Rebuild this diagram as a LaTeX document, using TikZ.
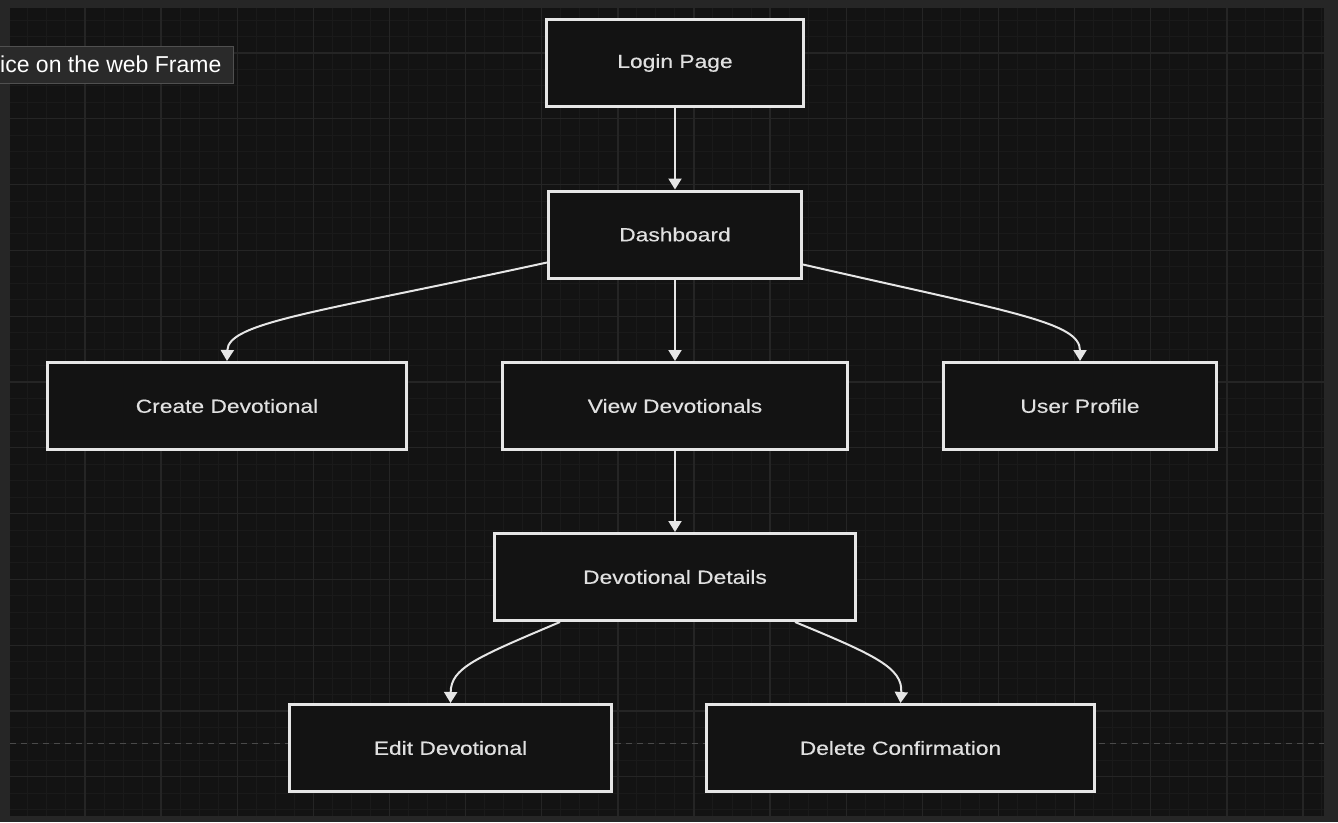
\documentclass[tikz,border=0pt]{standalone}
\usepackage{fontspec}
\usetikzlibrary{arrows.meta,calc}
\newfontfamily\lblfont[FakeStretch=1.2,FakeBold=0.4]{Liberation Sans}
\newfontfamily\tipfont{Liberation Sans}
\definecolor{frame}{HTML}{262626}
\definecolor{canvas}{HTML}{131313}
\definecolor{gridminor}{HTML}{1A1A1A}
\definecolor{gridmajor}{HTML}{252525}
\definecolor{edge}{HTML}{E6E6E6}
\definecolor{lbl}{HTML}{E0E0E0}
\definecolor{dashcol}{HTML}{4A4A4A}
\definecolor{tipfill}{HTML}{2A2A2A}
\definecolor{tipedge}{HTML}{505050}
\tikzset{
  flowbox/.style={draw=edge, line width=3pt, fill=canvas, minimum height=87pt,
    inner sep=0pt, text=lbl, font=\lblfont\fontsize{19}{21}\selectfont},
  conn/.style={draw=edge, line width=2pt, -{Triangle[width=13pt,length=11pt]}},
}
\begin{document}
\begin{tikzpicture}[x=1pt,y=-1pt]
\useasboundingbox (0,0) rectangle (1338,822);
\fill[frame] (0,0) rectangle (1338,822);
\fill[canvas] (10,8) rectangle (1324,816);
\begin{scope}
  \clip (10,8) rectangle (1324,816);
  \foreach \i in {-4,...,68} {
    \draw[gridminor, line width=1pt] ({85+19.03*\i},8) -- ({85+19.03*\i},816);
  }
  \foreach \j in {-4,...,48} {
    \draw[gridminor, line width=1pt] (10,{53+16.45*\j}) -- (1324,{53+16.45*\j});
  }
  \foreach \i in {-1,...,17} {
    \draw[gridmajor, line width=1.3pt] ({85+76.125*\i},8) -- ({85+76.125*\i},816);
  }
  \foreach \j in {-1,...,12} {
    \draw[gridmajor, line width=1.3pt] (10,{53+65.8*\j}) -- (1324,{53+65.8*\j});
  }
  \draw[dashcol, line width=1pt, dash pattern=on 6pt off 5pt] (10,743) -- (1324,743);
\end{scope}

% tooltip
\node[draw=tipedge, line width=0.8pt, fill=tipfill, anchor=north west,
  minimum width=234pt, minimum height=37pt, inner sep=0pt] (tip) at (-1,46) {};
\node[anchor=west, inner sep=0pt, text=white, font=\tipfont\fontsize{23}{26}\selectfont]
  (tiptext) at (0,64.5) {ice on the web Frame};

% nodes
\node[flowbox, minimum width=257pt] (login) at (675,63) {Login Page};
\node[flowbox, minimum width=253pt] (dash) at (675,234.5) {Dashboard};
\node[flowbox, minimum width=359pt] (create) at (227,406) {Create Devotional};
\node[flowbox, minimum width=345pt] (view) at (675,406) {View Devotionals};
\node[flowbox, minimum width=273pt] (user) at (1080,406) {User Profile};
\node[flowbox, minimum width=361pt] (det) at (675,577) {Devotional Details};
\node[flowbox, minimum width=322pt] (edit) at (450.5,748) {Edit Devotional};
\node[flowbox, minimum width=388pt] (del) at (900.5,748) {Delete Confirmation};

% connectors
\draw[conn] (login.south) -- (dash.north);
\draw[conn] (dash.south) -- (view.north);
\draw[conn] (view.south) -- (det.north);
\draw[conn] ([yshift=17pt]dash.south west) .. controls (320,312) and (228,322) .. (create.north);
\draw[conn] ([yshift=15pt]dash.south east) .. controls (1010,312) and (1080,322) .. (user.north);
\draw[conn] ([xshift=67pt]det.south west) .. controls (475,658) and (451,668) .. (edit.north);
\draw[conn] ([xshift=-62pt]det.south east) .. controls (875,655) and (903,668) .. (del.north);
\end{tikzpicture}
\end{document}
